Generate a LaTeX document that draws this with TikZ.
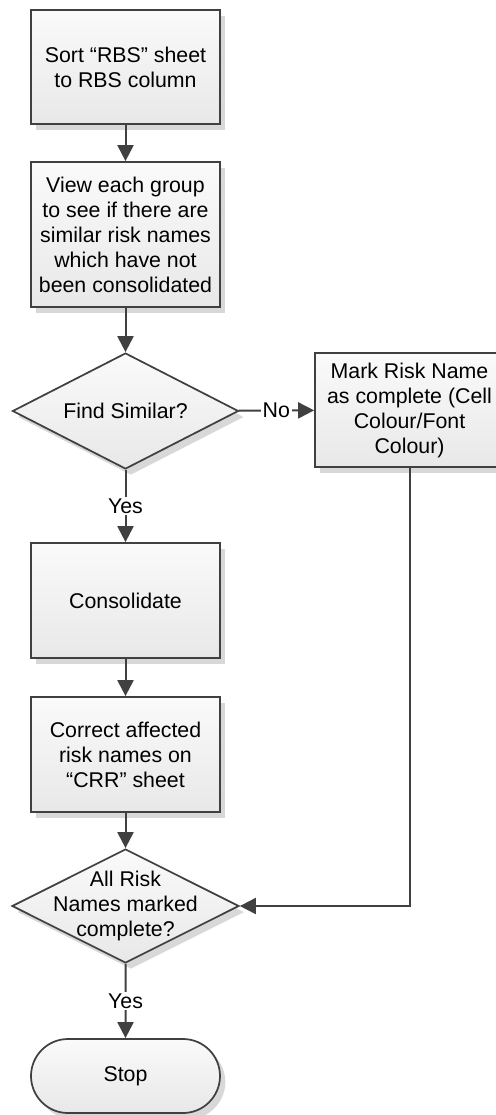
\documentclass[tikz,border=0pt]{standalone}
\usepackage{fontspec}
\setmainfont{Liberation Sans}
\usetikzlibrary{shapes.geometric,shapes.misc,shadows,arrows.meta}
\definecolor{edge}{HTML}{404040}
\definecolor{filltop}{HTML}{FAFAFA}
\definecolor{fillbot}{HTML}{E8E8E8}
\definecolor{shadowgray}{HTML}{D8D8D8}

\begin{document}
\begin{tikzpicture}[x=0.75pt,y=-0.75pt,
  every node/.style={font=\fontsize{16}{18.75}\selectfont},
  base/.style={draw=edge, line width=1.3pt, top color=filltop, bottom color=fillbot,
    drop shadow={shadow xshift=4pt, shadow yshift=-4.5pt, fill=shadowgray, opacity=1},
    inner sep=0pt},
  process/.style={base, rectangle, minimum width=141.75pt, align=center},
  decision/.style={base, diamond, minimum width=169.5pt, minimum height=87pt},
  dlabel/.style={align=center, inner sep=0pt},
  terminal/.style={base, rounded rectangle, minimum width=141.75pt, minimum height=55.5pt},
  flow/.style={draw=edge, line width=1.5pt, -{Triangle[width=12pt,length=12pt]}},
  tag/.style={fill=white, inner sep=1.5pt}
]
\useasboundingbox (0,0) rectangle (496,1115);

% process boxes, decisions and terminal
\node[process, minimum height=85.5pt] (sort) at (125.5,67)
  {Sort “RBS” sheet\\to RBS column};
\node[process, minimum height=108.75pt] (view) at (125.5,234.5)
  {View each group\\to see if there are\\similar risk names\\which have not\\been consolidated};
\node[decision] (find) at (125.5,411) {};
\node[dlabel] (findtext) at (find) {Find Similar?};
\node[process, minimum height=85.5pt] (mark) at (409.5,410)
  {Mark Risk Name\\as complete (Cell\\Colour/Font\\Colour)};
\node[process, minimum height=86.25pt] (cons) at (125.5,600.5) {Consolidate};
\node[process, minimum height=86.25pt] (corr) at (125.5,754.5)
  {Correct affected\\risk names on\\“CRR” sheet};
\node[decision, minimum width=170.25pt, minimum height=85.5pt] (all) at (125.5,906) {};
\node[dlabel] (alltext) at (all) {All Risk\\Names marked\\complete?};
\node[terminal] (stop) at (125.5,1076) {Stop};

% connectors
\draw[flow] (sort) -- (view);
\draw[flow] (view) -- (find);
\draw[flow] (find) -- node[tag] {No} (mark);
\draw[flow] (find) -- node[tag] {Yes} (cons);
\draw[flow] (cons) -- (corr);
\draw[flow] (corr) -- (all);
\draw[flow] (mark.south) |- (all.east);
\draw[flow] (all) -- node[tag] {Yes} (stop);
\end{tikzpicture}
\end{document}
